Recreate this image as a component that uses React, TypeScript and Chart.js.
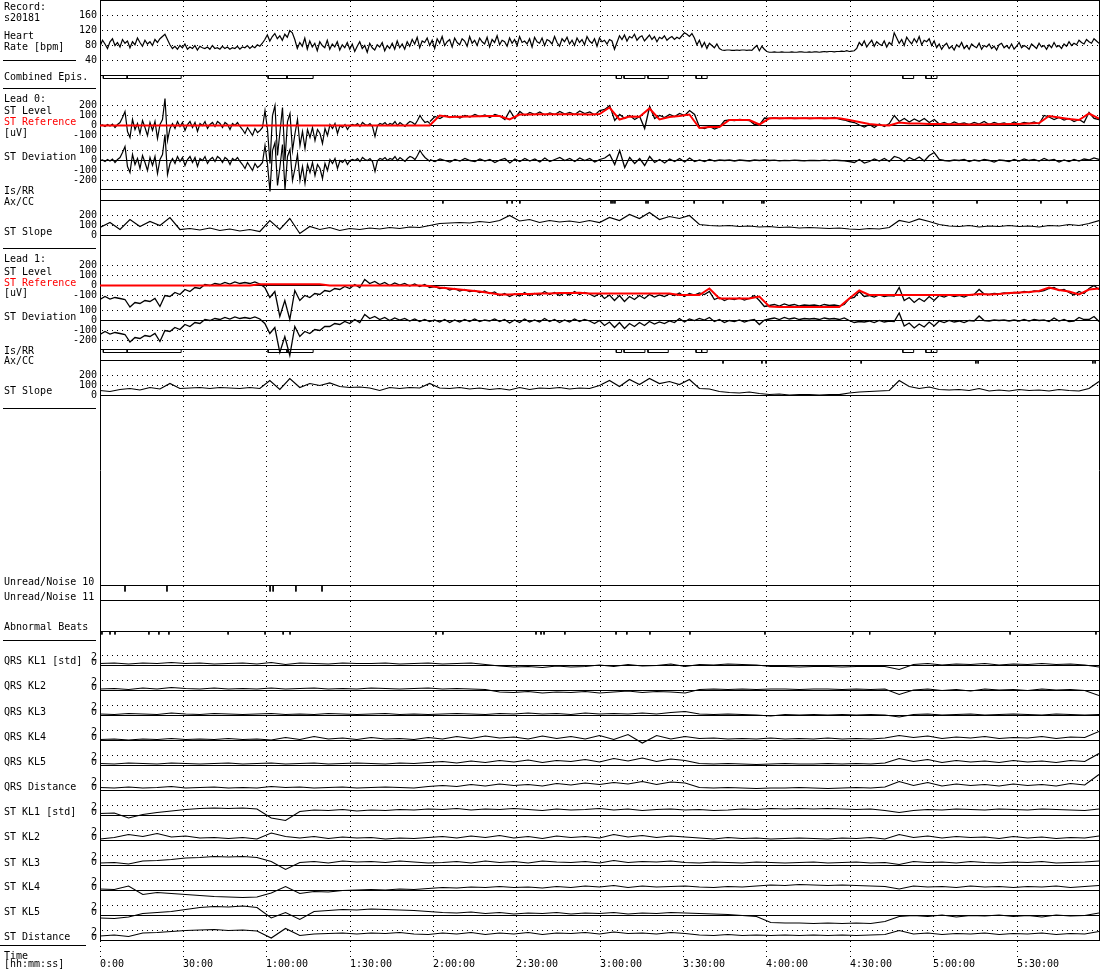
import React, { useEffect, useRef } from 'react';
import { Chart, registerables } from 'chart.js';

Chart.register(...registerables);

// ---------------- data ----------------
const RECORD_MINUTES = 359.5;
const LEAD0_SPLIT_MIN = 118.75; // lead 0 traces are sampled more densely before this time
const timeTickMinutes = [0, 30, 60, 90, 120, 150, 180, 210, 240, 270, 300, 330];
const timeTickLabels = ['0:00', '30:00', '1:00:00', '1:30:00', '2:00:00', '2:30:00', '3:00:00', '3:30:00', '4:00:00', '4:30:00', '5:00:00', '5:30:00'];
const hrTicks = [160, 120, 80, 40];
const stLevelTicks = [200, 100, 0, -100];
const stDevTicks = [100, 0, -100, -200];
const stSlopeTicks = [200, 100, 0];
const klTicks = [2, 0];

const heartRate = [
  78, 94, 84, 72, 90, 98, 80, 88, 76, 96, 86, 92, 74, 90, 82, 100, 88, 78, 94, 84, 90, 80, 96, 88, 98,
  104, 110, 96,
  82, 72, 78, 70, 80, 74, 84, 70, 76, 72, 80, 68, 78, 74, 72, 76, 70, 80, 72, 74,
  70, 78, 72, 76, 70, 74, 72, 78, 70, 76, 74, 80, 72, 78, 74, 82, 78, 86,
  96, 108, 92, 104, 112, 98, 106, 94, 110, 102, 120, 114,
  96, 72, 88, 78, 100, 70, 92, 76, 86, 66, 90, 80, 74, 94, 70, 84, 76, 90, 68, 82, 74, 88,
  70, 84, 64, 78, 90, 72, 80, 62, 86, 74, 68, 82, 76, 88, 66, 80, 72, 86, 70, 92, 74, 84, 70, 90,
  78, 96, 84, 102, 74, 92, 88, 100, 80, 94, 72, 98, 86, 104, 80, 90, 96, 76, 100, 88, 82, 98, 92, 78, 104, 86, 94, 80, 100, 90,
  84, 102, 76, 96, 88, 106, 82, 94, 90, 78, 100, 86, 96, 80, 104, 88, 92, 84, 98, 76, 102, 90, 86, 100, 80, 96, 92, 84, 104, 88,
  78, 98, 90, 102, 84, 94, 80, 100, 88, 96, 82, 104, 92, 86, 98, 78, 100, 90, 94, 84, 96,
  92, 70, 88, 106,
  96, 108, 92, 104, 100, 110, 94, 102, 106, 92, 100, 108, 96, 104, 90, 102, 98, 106, 94, 100, 104, 96, 102, 98,
  106, 114, 110, 104, 112,
  100, 82, 94, 76, 88, 72, 86, 80, 74, 84, 72,
  68, 67, 68, 68, 67, 67, 68, 67, 68, 68, 67, 68, 67,
  74, 80, 66, 78, 70, 64,
  62, 62, 63, 62, 62, 63, 62, 62, 62, 63, 62, 62, 63, 63, 62, 62, 63, 62, 63, 63,
  62, 63, 64, 63, 64, 64, 63, 64, 64, 65, 64, 66, 64, 65, 66,
  72, 88, 80, 92, 76, 86, 94, 78, 90, 84, 80, 92, 76, 88, 82,
  114,
  100, 86, 96, 80, 102, 92, 84, 98, 88, 104, 82, 94, 90, 98, 80, 92,
  74, 84, 70, 80, 86, 72, 78, 68, 82, 76, 88, 72, 80, 70, 84, 78, 74, 86, 70, 80, 76, 84, 72, 78, 68, 82, 86, 74, 80, 72,
  84, 70, 78, 88, 74, 80, 76, 70, 84, 78, 72, 86, 76, 80, 70, 82, 74, 88, 76, 80, 72, 84, 78, 90, 80, 86, 82, 94, 88, 84,
  96, 90, 86, 98, 92,
  86,
];

// lead 0, 0:00 - 1:58:45 (dense)
const lead0LevelEarly = [
  0, 5, -10, 10, -5, 15, -20, 10, 30,
  80, 140, -60, -120,
  60, -40, 20, -80, 50, -20, -100, 30, -50, 40, -130, 10,
  60, 270, -150, -30,
  20, -30, 40, -10, 30, -50, 10, 40, -20, 30, -60, 20, 0, 40, -30, 10, 30, -10, 40, 20, -20, 30, 10, -40, 20, 0, 30, -10,
  -40, -80, -20, -60, -100, -30, -70, -50, -20,
  150, -40, -380, 100, 200, -300, -60, 180, -350, 40, 120, -250, -80, 60, -200,
  -60, -230, -40, -120, -20, -150, -40, -80, -180, -30, -100, 10,
  -30, 20, -80, 0, -20, 10, -40, 0,
  10, 0, 20, -10, 30, 10, 0, 20, -10, -110, 0, 20, 10, 30, 0, 20, 10, 40, 0, 30, 10, -10, 20, 40, 30, 10, 50, 100, 60, 30, 40, 20,
];
// lead 0, 1:58:45 - end
const lead0LevelLate = [
  40, 90, 70, 100, 80, 95, 75, 100, 85, 110, 90, 105, 80, 110,
  95, 60, 150, 70, 140, 100, 130, 110, 135, 105, 125, 110, 140, 115, 130, 110, 145, 120, 135, 105,
  150, 160, 200, 50, 110, 70, 100, 60, 90, -30, 190, 70, 100, 80, 110, 90, 120, 100, 150, 110,
  -20, -30, -10, -35, -15, 50, 55, 50, 60, 55, 50, 10, 5, 75, 70, 75, 70, 72, 75, 70,
  72, 74, 70, 72, 75, 70, 72, 80, 65, 55, 40, 30, 5, -15, 10, -20, 15, -10, 20, 100,
  40, 70, 35, 65, 40, 70, 30, 60, 15, 30, 10, 35, 15, 25, 10, 30, 15, 40, 10, 30,
  15, 25, 10, 35, 15, 30, 20, 35, 15, 100, 85, 60, 80, 55, 70, 40, 60, 30, 130, 70,
  60,
];

const lead0Reference = [
  0, 0, 0, 0, 0, 0, 0, 0, 0, 0, 0, 0, 0, 0, 0, 0, 0, 0, 0, 0,
  0, 0, 0, 0, 0, 0, 0, 0, 0, 0, 0, 0, 0, 0,
  100, 85, 88, 90, 92, 95, 95, 60, 110, 110, 112, 112, 112, 112, 112, 110,
  115, 180, 60, 90, 88, 170, 60, 85, 95, 110, -25, -15, -15, 55, 55, 55, 10,
  72, 72, 72, 72, 72, 72, 72, 72, 55, 35, 15, 5, 0,
  30, 20, 20, 15, 15, 12, 12, 10, 10, 12, 12, 15, 15, 20, 25, 95, 80, 65, 55, 120, 70,
];

const lead0DeviationEarly = [
  0, 5, -10, 10, -5, 15, -20, 10, 30,
  80, 140, -60, -120,
  60, -40, 20, -80, 50, -20, -100, 30, -50, 40, -130, 10,
  60, 260, -140, -30,
  20, -30, 40, -10, 30, -50, 10, 40, -20, 30, -60, 20, 0, 40, -30, 10, 30, -10, 40, 20, -20, 30, 10, -40, 20, 0, 30, -10,
  -40, -80, -20, -60, -100, -30, -70, -50, -20,
  150, -40, -310, 100, 180, -250, -60, 160, -290, 40, 110, -200, -80, 60, -200,
  -60, -230, -40, -120, -20, -150, -40, -80, -180, -30, -100, 10,
  -30, 20, -80, 0, -20, 10, -40, 0,
  10, 0, 20, -10, 30, 10, 0, 20, -10, -110, 0, 20, 10, 30, 0, 20, 10, 40, 0, 30, 10, -10, 20, 40, 30, 10, 50, 100, 60, 30, 10, -10,
];
const lead0DeviationLate = [
  10, -10, 15, 0, -15, 10, -5, 20, 0, -10, 15, -5, 10, -20, 5, 20, -25, 15, -10, 20,
  -5, 15, -15, 25, -10, 10, 30, 0, 20, -10, 25, 0, 20, -15, 10,
  25, 60, -40, 100, -70, 30, -30, 20, -50, 40, -20, 10, -25, 15, -10, 20, -15, 25, -10, 5,
  -10, 10, -5, 5, 0, 5, -5, 5, 0, -5, 5, 0, 5, 0,
  3, -3, 2, -2, 4, 0, -3, 2, 0, -2, 3, -2, 4, 0, -3,
  -10, -20, 10, -25, -10, 15, -5, 20, -10, 40, 25, -10, 30, 5, 35, -5,
  50, 80, 10, 0, -5, 5, 0, 10, -10, 5, -5, 10, 0, -15, 5, 0, -10, 10, -5, 15,
  0, 10, -5, 20, 0, 10, -15, 5, -10, 10, -5, 15, 5, 25, 10,
];

const lead0Slope = [
  80, 130, 60, 160, 90, 140, 100, 180, 60, 70, 55, 75, 50, 65, 45, 60, 40, 150, 60, 170,
  20, 90, 60, 80, 50, 70, 60, 75, 65, 80, 70, 85, 80, 100, 120, 125, 130, 125, 140, 130,
  150, 200, 145, 160, 130, 150, 135, 145, 130, 150, 130, 180, 150, 210, 170, 230, 160, 190, 170, 200,
  110, 100, 95, 100, 90, 95, 85, 90, 80, 85, 75, 80, 75, 70, 75, 65, 60, 70, 65, 80,
  150, 130, 165, 140, 110, 95, 90, 100, 85, 95, 90, 100, 90, 95, 85, 100, 95, 110, 100, 120,
  150,
];

const lead1Level = [
  -140, -110, -135, -120, -130, -140, -215, -170, -180, -150, -160, -130, -210, -100, -110, -70, -90, -40, -60, -20,
  -30, 10, 0, 20, 10, 30, 15, 35, 20, 30, 20, 35, 15, -20, -120, -60, -310, -150, -340, -50,
  -150, -100, -120, -80, -90, -50, -60, -30, -40, -10, -30, 10, -20, 60, 20, 40, 10, 30, 0, 25,
  5, 20, -5, 15, -10, 10, -20, -10, -30, -20, -45, -30, -55, -40, -60, -50, -70, -55, -80, -65,
  -100, -80, -110, -85, -105, -70, -100, -80, -95, -60, -90, -70, -100, -75, -95, -60, -90, -70, -85, -110,
  -80, -130, -95, -150, -100, -160, -110, -140, -100, -130, -90, -115, -95, -110, -85, -100, -75, -110, -80, -95,
  -75, -90, -60, -140, -120, -150, -130, -140, -125, -145, -130, -100, -150, -210, -200, -190, -205, -185, -200, -190,
  -205, -195, -200, -195, -205, -190, -200, -195, -205, -190, -130, -120, -60, -110, -100, -115, -95, -110, -100, -105,
  -20, -150, -120, -170, -130, -160, -110, -150, -100, -115, -95, -110, -100, -115, -95, -90, -40, -85, -90, -80,
  -85, -75, -80, -70, -75, -60, -70, -55, -60, -50, -30, -20, -50, -40, -70, -95, -60, -80, -30, 0,
  -40,
];

const lead1Reference = [
  0, 0, 0, 0, 0, 0, 0, 0, 0, 0, 0, 0, 0, 0, 0, 0,
  12, 12, 12, 12, 12, 12, 12,
  0, 0, 0, 0, 0, 0, 0, 0, 0, 0,
  -5, -20, -30, -40, -50, -60, -75, -90, -90, -85, -85, -80, -80, -75, -75, -72, -80,
  -80, -80, -80, -80, -80, -80, -80, -80,
  -95, -95, -95, -30, -130, -130, -130, -130, -110,
  -210, -215, -215, -215, -215, -215, -215, -215,
  -130, -50, -95, -95, -95, -95, -95, -95, -95, -95, -95, -95, -95,
  -85, -90, -85, -75, -70, -65, -55, -20, -45, -60, -90, -40, -30,
];

const lead1Deviation = [
  -140, -110, -135, -120, -130, -140, -215, -170, -180, -150, -160, -130, -210, -100, -110, -70, -90, -40, -60, -20,
  -30, 10, 0, 20, 10, 30, 15, 35, 20, 30, 20, 35, 15,
  -30, -130, -70, -320, -160, -350, -60, -160, -110, -130, -90, -100, -60, -60, -30,
  -40, -10, -30, 10, -20, 60, 20, 40, 10, 30, 0, 25, 5, 20, -5, 15, -10, 10,
  -10, 5, -15, 10, -20, 5, -15, 10, -10, 15, -10, 5, -5, 15, -10, 10, -25, 5, -20, 15,
  -15, 5, -15, 20, -10, 10, -20, 5, -15, 15, -10, 10, -5,
  -30, 0, -50, -15, -70, -20, -80, -30, -60, -20, -50, -10, -35, -15, -30, -5, -20, 20, -15, 15,
  0, 20, 5, 30, -10, 10, -20, 0, -10, 5, -15, 0, 10, -40,
  5, 15, 25, 10, 30, 15, 25, 10, 20, 15, 20, 10, 25, 15, 20, 10, 25,
  0, -20, -10, -15, -5, -20, 0, -15, -5, -10, 75, -55, -25, -75, -35, -65, -15, -55, -5, -20,
  0, -15, -5, -20, 0, -5,
  45, 0, -5, 5, 0, 5, -5, 5, -5, 10, -5, 10, 0, 5, -10, 25, -5, 10, -10, -5,
  30, 10, 10, 40, -10,
];

const lead1Slope = [
  50, 40, 60, 70, 55, 80, 65, 120, 70, 75, 80, 70, 80, 75, 70, 80, 70, 150, 60, 170,
  80, 120, 100, 125, 90, 80, 85, 75, 50, 80, 70, 80, 75, 120, 75, 70, 80, 65, 75, 60,
  70, 55, 80, 60, 75, 70, 80, 65, 75, 70, 100, 150, 90, 160, 110, 170, 120, 140, 110, 160,
  70, 65, 40, 30, 25, 35, 20, 10, 15, 5, 10, 8, 5, 10, 8, 25, 35, 40, 45, 50,
  150, 90, 70, 85, 60, 55, 60, 50, 70, 45, 55, 45, 60, 50, 55, 45, 60, 50, 45, 70,
  140,
];

const qrsKL1 = [0.4, 0.5, 0.3, 0.5, 0.4, 0.6, 0.4, 0.5, 0.3, 0.4, 0.5, 0.3, 0.6, 0.2, 0.5, 0.4, 0.3, 0.5, 0.4, 0.4, 0.5, 0.3, 0.4, 0.5, 0.3, 0.4, 0.5, 0.2, -0.1, -0.3, -0.2, -0.4, -0.1, -0.3, -0.2, 0.1, -0.2, 0.2, -0.1, 0.0, 0.3, -0.2, 0.2, 0.1, 0.3, 0.2, 0.1, -0.2, -0.2, -0.3, -0.2, -0.2, -0.3, -0.2, -0.2, -0.2, -0.8, 0.2, 0.4, 0.1, 0.3, 0.2, 0.4, 0.1, 0.3, 0.2, 0.4, 0.2, 0.3, 0.1, -0.3];
const qrsKL2 = [0.3, 0.4, 0.2, 0.5, 0.3, 0.6, 0.4, 0.3, 0.5, 0.3, 0.4, 0.3, 0.5, 0.3, 0.4, 0.5, 0.3, 0.4, 0.3, 0.5, 0.4, 0.3, 0.4, 0.5, 0.3, 0.4, 0.3, 0.2, -0.3, -0.4, -0.2, -0.5, -0.3, -0.4, -0.2, -0.5, -0.3, -0.1, -0.4, -0.2, -0.3, -0.5, 0.2, 0.3, 0.2, 0.3, 0.2, 0.3, 0.3, 0.2, 0.3, 0.3, 0.2, 0.3, 0.2, 0.3, -0.8, 0.1, 0.3, 0.0, 0.2, -0.1, 0.3, 0.1, 0.2, 0.0, 0.3, 0.1, 0.2, 0.0, -1.0];
const qrsKL3 = [0.3, 0.2, 0.4, 0.3, 0.2, 0.5, 0.3, 0.2, 0.4, 0.3, 0.2, 0.3, 0.4, 0.2, 0.3, 0.2, 0.4, 0.3, 0.2, 0.3, 0.4, 0.2, 0.3, 0.2, 0.3, 0.4, 0.3, 0.2, 0.4, 0.3, 0.5, 0.3, 0.4, 0.2, 0.5, 0.3, 0.4, 0.3, 0.5, 0.3, 0.6, 0.8, 0.3, 0.2, 0.3, 0.2, 0.1, -0.1, 0.2, 0.1, 0.2, 0.1, 0.2, 0.1, 0.2, 0.1, -0.3, 0.2, 0.3, 0.1, 0.2, 0.3, 0.1, 0.2, 0.3, 0.2, 0.1, 0.3, 0.2, 0.1, 0.2];
const qrsKL4 = [0.2, 0.3, 0.1, 0.3, 0.2, 0.4, 0.2, 0.3, 0.2, 0.4, 0.2, 0.3, 0.1, 0.6, 0.2, 0.8, 0.3, 0.5, 0.2, 0.6, 0.3, 0.4, 0.2, 0.6, 0.3, 0.8, 0.4, 0.9, 0.5, 0.7, 0.3, 0.9, 0.4, 0.8, 0.3, 1.0, 0.2, 1.2, -0.5, 1.0, 0.3, 0.8, 0.4, 0.5, 0.3, 0.4, 0.3, 0.5, 0.3, 0.4, 0.3, 0.5, 0.3, 0.4, 0.3, 0.5, 1.0, 0.6, 0.9, 0.4, 0.7, 0.5, 0.8, 0.4, 0.6, 0.5, 0.8, 0.4, 0.7, 0.6, 1.8];
const qrsKL5 = [0.4, 0.3, 0.5, 0.4, 0.3, 0.5, 0.4, 0.3, 0.4, 0.5, 0.3, 0.4, 0.5, 0.3, 0.4, 0.5, 0.3, 0.4, 0.5, 0.4, 0.3, 0.5, 0.4, 0.6, 0.8, 0.5, 0.9, 0.6, 1.0, 0.7, 1.1, 0.6, 1.0, 0.8, 1.2, 0.7, 1.4, 0.9, 1.5, 0.8, 1.3, 1.0, 0.4, 0.3, 0.4, 0.3, 0.2, 0.3, 0.4, 0.3, 0.3, 0.4, 0.3, 0.4, 0.3, 0.5, 1.4, 0.8, 1.2, 0.6, 1.0, 0.7, 0.9, 0.6, 1.0, 0.7, 0.9, 0.6, 1.0, 0.8, 2.4];
const qrsDistance = [0.6, 0.5, 0.7, 0.5, 0.6, 0.8, 0.5, 0.6, 0.7, 0.5, 0.6, 0.5, 0.8, 0.6, 0.7, 0.5, 0.6, 0.7, 0.5, 0.6, 0.7, 0.6, 0.5, 0.8, 1.0, 0.8, 1.2, 0.9, 1.3, 1.0, 1.2, 0.9, 1.4, 1.1, 1.5, 1.2, 1.6, 1.3, 1.8, 1.2, 1.7, 1.5, 0.6, 0.5, 0.6, 0.5, 0.4, 0.5, 0.5, 0.6, 0.5, 0.4, 0.5, 0.6, 0.5, 0.7, 1.8, 1.0, 1.6, 0.9, 1.3, 1.0, 1.2, 0.9, 1.3, 1.0, 1.2, 0.9, 1.4, 1.1, 3.2];
const stKL1 = [0.4, 0.5, -0.5, 0.2, 0.6, 0.9, 1.2, 1.4, 1.5, 1.4, 1.5, 1.3, -0.5, -1.0, 0.8, 1.1, 1.0, 1.2, 0.9, 1.1, 1.0, 1.2, 1.1, 1.3, 1.2, 1.4, 1.1, 1.3, 1.2, 1.4, 1.2, 1.0, 1.3, 1.1, 1.2, 1.4, 1.1, 1.3, 1.0, 1.2, 1.3, 1.1, 1.2, 1.0, 1.1, 1.3, 1.2, 1.4, 1.3, 1.4, 1.3, 1.4, 1.3, 1.2, 1.3, 1.0, 0.6, 1.0, 1.2, 1.1, 1.3, 1.2, 1.1, 1.3, 1.2, 1.1, 1.3, 1.2, 1.1, 1.0, 1.3];
const stKL2 = [0.3, 0.6, 1.2, 0.8, 1.4, 0.7, 0.9, 0.5, 0.6, 0.4, 0.6, 0.3, 1.5, 0.8, 0.5, 0.8, 0.4, 0.7, 0.5, 0.6, 0.3, 0.5, 0.4, 0.6, 0.8, 0.5, 0.9, 0.6, 1.0, 0.5, 0.8, 0.4, 0.9, 0.6, 0.8, 0.5, 1.2, 0.7, 1.0, 0.6, 0.9, 0.7, 0.5, 0.3, 0.6, 0.4, 0.5, 0.3, 0.4, 0.5, 0.4, 0.3, 0.5, 0.4, 0.6, 0.3, 1.2, 0.6, 0.9, 0.5, 0.8, 0.6, 0.7, 0.4, 0.8, 0.5, 0.7, 0.4, 0.6, 0.5, 0.9];
const stKL3 = [0.5, 0.6, 0.3, 0.9, 1.0, 1.2, 1.5, 1.6, 1.8, 1.7, 1.8, 1.6, 0.8, -0.8, 0.6, 0.8, 0.5, 0.9, 0.7, 0.8, 0.6, 0.9, 0.7, 0.5, 0.6, 0.8, 0.5, 0.9, 0.6, 0.8, 0.5, 0.9, 0.7, 0.6, 0.8, 0.5, 1.0, 0.6, 0.8, 0.7, 0.9, 0.6, 0.5, 0.7, 0.6, 0.5, 0.7, 0.6, 0.5, 0.6, 0.7, 0.5, 0.6, 0.7, 0.5, 0.6, 0.2, 0.8, 0.6, 0.7, 0.5, 0.8, 0.6, 0.5, 0.7, 0.6, 0.8, 0.5, 0.6, 0.7, 0.9];
const stKL4 = [0.3, 0.2, 0.9, -0.8, -0.4, -0.6, -0.8, -1.0, -1.2, -1.3, -1.4, -1.3, -0.5, 0.8, -0.6, -0.2, -0.3, 0.0, 0.1, 0.2, 0.1, 0.3, 0.2, 0.4, 0.6, 0.5, 0.7, 0.6, 0.8, 0.6, 0.7, 0.5, 0.8, 0.6, 0.9, 0.7, 1.0, 0.6, 0.9, 0.7, 0.8, 0.9, 0.7, 0.6, 0.8, 0.7, 0.9, 1.1, 1.0, 1.2, 1.1, 1.0, 1.1, 1.0, 0.9, 0.8, 0.3, 0.9, 0.7, 0.8, 0.6, 0.9, 0.7, 0.8, 0.6, 0.8, 0.7, 0.9, 0.6, 0.8, 1.0];
const stKL5 = [-0.5, -0.6, -0.3, 0.4, 0.6, 0.8, 1.2, 1.6, 1.8, 1.7, 1.9, 1.6, -0.5, 0.6, -0.8, 0.8, 1.0, 1.2, 1.1, 1.3, 1.2, 1.1, 1.0, 0.8, 0.6, 0.5, 0.7, 0.4, 0.6, 0.3, 0.5, 0.4, 0.6, 0.3, 0.5, 0.4, 0.6, 0.3, 0.5, 0.4, 0.6, 0.5, 0.4, 0.3, 0.2, 0.0, -0.2, -1.4, -1.5, -1.5, -1.6, -1.5, -1.6, -1.5, -1.6, -1.2, -0.2, 0.0, -0.2, 0.1, -0.3, 0.0, -0.1, 0.1, -0.2, 0.0, -0.3, 0.1, -0.1, 0.0, 0.5];
const stDistance = [0.9, 1.1, 0.8, 1.5, 1.6, 1.8, 2.0, 2.1, 2.2, 2.0, 2.1, 1.9, 0.5, 2.4, 1.0, 1.3, 1.4, 1.5, 1.3, 1.5, 1.4, 1.6, 1.3, 1.2, 1.5, 1.3, 1.6, 1.2, 1.5, 1.3, 1.6, 1.2, 1.5, 1.4, 1.6, 1.3, 1.7, 1.4, 1.5, 1.3, 1.6, 1.4, 1.1, 1.0, 1.2, 1.0, 1.1, 1.0, 1.1, 1.0, 1.1, 1.0, 1.1, 1.0, 1.1, 1.2, 2.0, 1.3, 1.5, 1.2, 1.4, 1.3, 1.5, 1.2, 1.4, 1.3, 1.5, 1.2, 1.4, 1.3, 1.8];

// episodes (minutes)
const episodeStartMin = [1.2, 9.8, 60.5, 67.3, 185.8, 188.6, 197.2, 214.5, 216.5, 288.9, 297.2, 299.2];
const episodeEndMin = [9.8, 29.2, 67.3, 76.7, 187.7, 196.1, 204.5, 216.5, 218.5, 292.8, 299.2, 301.2];
// event markers (minutes)
const lead0AxisShiftMin = [123.4, 146.5, 148.3, 151.1, 183.9, 184.6, 185.3, 196.5, 197.2, 213.8, 224.2, 238.2, 238.9, 273.9, 285.7, 299.8, 315.6, 338.6, 348.0];
const lead1AxisShiftMin = [224.2, 238.2, 239.7, 273.9, 315.2, 316.0, 357.3, 358.1];
const noise10Min = [9.0, 24.1, 61.2, 62.3, 70.5, 79.9];
const abnormalBeatMin = [0.7, 3.6, 5.4, 17.6, 21.2, 24.8, 46.1, 59.4, 65.9, 68.4, 120.9, 123.4, 156.9, 158.7, 159.8, 167.3, 185.7, 189.6, 197.9, 212.3, 239.3, 270.9, 277.0, 300.5, 327.5, 358.4];

// ---------------- layout ----------------
const AREA = { top: 0, bottom: 941, left: 100, right: 1099, canvasW: 1100, canvasH: 970 };
const FONT = '10px "DejaVu Sans Mono", "Liberation Mono", monospace';
const RED = '#ff0000';

// axis id -> [anchor value, anchor pixel, px per unit]
const AXIS_ANCHORS: Record<string, [number, number, number]> = {
  yHR: [40, 60.5, 15 / 40],
  yEpi: [0, 75.5, 1],
  yL0: [0, 125.5, 0.1],
  yD0: [0, 160.5, 0.1],
  yIs0: [0, 189.5, 1],
  yAx0: [0, 200.5, 1],
  yS0: [0, 235.5, 0.1],
  yL1: [0, 285.5, 0.1],
  yD1: [0, 320.5, 0.1],
  yIs1: [0, 349.5, 1],
  yAx1: [0, 360.5, 1],
  yS1: [0, 395.5, 0.1],
  yN10: [0, 585.5, 1],
  yN11: [0, 600.5, 1],
  yAB: [0, 631.5, 1],
};
const KL_AXES = ['yQ0', 'yQ1', 'yQ2', 'yQ3', 'yQ4', 'yQ5', 'yT0', 'yT1', 'yT2', 'yT3', 'yT4', 'yT5'];
KL_AXES.forEach((id, i) => {
  AXIS_ANCHORS[id] = [0, 665.5 + 25 * i, 5];
});

const PANELS = [
  { axis: 'yHR', ticks: hrTicks, solid: [] as number[], kl: false },
  { axis: 'yL0', ticks: stLevelTicks, solid: [0], kl: false },
  { axis: 'yD0', ticks: stDevTicks, solid: [0], kl: false },
  { axis: 'yS0', ticks: stSlopeTicks, solid: [0], kl: false },
  { axis: 'yL1', ticks: stLevelTicks, solid: [0], kl: false },
  { axis: 'yD1', ticks: stDevTicks, solid: [0], kl: false },
  { axis: 'yS1', ticks: stSlopeTicks, solid: [0], kl: false },
  ...KL_AXES.map((id) => ({ axis: id, ticks: klTicks, solid: [0], kl: true })),
];
const BORDER_AXES = ['yEpi', 'yIs0', 'yAx0', 'yIs1', 'yAx1', 'yN10', 'yN11', 'yAB'];

const LEFT_LABELS: [string, number, string?][] = [
  ['Record:', 10], ['s20181', 20.5], ['Heart', 39], ['Rate [bpm]', 50],
  ['Combined Epis.', 80],
  ['Lead 0:', 101.5], ['ST Level', 114], ['ST Reference', 125, RED], ['[uV]', 135.5],
  ['ST Deviation', 159.5], ['Is/RR', 194], ['Ax/CC', 205], ['ST Slope', 234.5],
  ['Lead 1:', 261.5], ['ST Level', 274.5], ['ST Reference', 285.5, RED], ['[uV]', 296],
  ['ST Deviation', 319.5], ['Is/RR', 353.5], ['Ax/CC', 364], ['ST Slope', 394],
  ['Unread/Noise 10', 585], ['Unread/Noise 11', 599.5], ['Abnormal Beats', 629.5],
  ['QRS KL1 [std]', 663.5], ['QRS KL2', 689], ['QRS KL3', 714.5], ['QRS KL4', 739.5],
  ['QRS KL5', 764.5], ['QRS Distance', 789.5],
  ['ST KL1 [std]', 815], ['ST KL2', 840], ['ST KL3', 866], ['ST KL4', 890],
  ['ST KL5', 915], ['ST Distance', 939.5],
  ['Time', 958.5], ['[hh:mm:ss]', 967],
];
const LABEL_SEPARATORS: [number, number, number][] = [
  [60.5, 3, 76], [88.5, 3, 96], [248.5, 3, 96], [408.5, 3, 96], [640.5, 3, 96], [945.5, 0, 86],
];

// ---------------- helpers ----------------
function makeAxis(v0: number, p0: number, k: number) {
  const max = v0 + (p0 - AREA.top) / k;
  const min = max - (AREA.bottom - AREA.top) / k;
  return { type: 'linear', display: false, min, max, bounds: 'data' };
}
const series = (vals: number[], t0 = 0, t1 = RECORD_MINUTES) =>
  vals.map((v, i) => ({ x: t0 + (i * (t1 - t0)) / (vals.length - 1), y: v }));
const boxes = (starts: number[], ends: number[], depth: number) =>
  starts.flatMap((s, i) => [
    { x: s, y: 0 }, { x: s, y: -depth }, { x: ends[i], y: -depth }, { x: ends[i], y: 0 }, { x: ends[i], y: null },
  ]);
const marks = (times: number[], len: number) => times.flatMap((t) => [{ x: t, y: 0 }, { x: t, y: -len }, { x: t, y: null }]);
const snap = (p: number) => Math.round(p - 0.5) + 0.5;

const framePlugin = {
  id: 'ecgFrame',
  beforeDatasetsDraw(chart: any) {
    const ctx = chart.ctx as CanvasRenderingContext2D;
    const s = chart.scales;
    const L = chart.chartArea.left;
    const R = chart.chartArea.right;
    const hline = (y: number, x1: number, x2: number) => {
      ctx.beginPath(); ctx.moveTo(x1, y); ctx.lineTo(x2, y); ctx.stroke();
    };
    const vline = (x: number, y1: number, y2: number) => {
      ctx.beginPath(); ctx.moveTo(x, y1); ctx.lineTo(x, y2); ctx.stroke();
    };
    ctx.save();
    ctx.lineWidth = 1;
    ctx.strokeStyle = '#000';
    ctx.setLineDash([1, 4]);
    for (const p of PANELS) {
      for (const v of p.ticks) {
        if (p.solid.includes(v)) continue;
        hline(snap(s[p.axis].getPixelForValue(v)), L + 2, R);
      }
    }
    for (const t of timeTickMinutes) {
      const x = snap(s.x.getPixelForValue(t));
      vline(x, 1, 957);
    }
    ctx.setLineDash([]);
    for (const p of PANELS) {
      for (const v of p.solid) hline(snap(s[p.axis].getPixelForValue(v)), L, R + 1);
    }
    for (const id of BORDER_AXES) hline(snap(s[id].getPixelForValue(0)), L, R + 1);
    hline(0.5, L, R + 1);
    vline(L + 0.5, 0, AREA.bottom);
    vline(R + 0.5, 0, AREA.bottom);
    ctx.restore();
  },
  afterDraw(chart: any) {
    const ctx = chart.ctx as CanvasRenderingContext2D;
    const s = chart.scales;
    ctx.save();
    ctx.font = FONT;
    ctx.textAlign = 'left';
    ctx.textBaseline = 'alphabetic';
    for (const [txt, y, col] of LEFT_LABELS) {
      ctx.fillStyle = col || '#000';
      ctx.fillText(txt, 4, y);
    }
    ctx.fillStyle = '#000';
    timeTickMinutes.forEach((t, i) => {
      const x = snap(s.x.getPixelForValue(t)) - 0.5;
      ctx.fillText(timeTickLabels[i], x, 967);
    });
    ctx.textAlign = 'right';
    for (const p of PANELS) {
      for (const v of p.ticks) {
        const y = s[p.axis].getPixelForValue(v);
        if (p.kl) {
          ctx.textBaseline = 'alphabetic';
          if (v === 0) {
            ctx.save();
            ctx.beginPath();
            ctx.rect(80, y - 6, 20, 6);
            ctx.clip();
            ctx.fillText('0', 97, y - 0.5);
            ctx.restore();
          } else {
            ctx.fillText(String(v), 97, y + 4);
          }
        } else {
          ctx.textBaseline = 'middle';
          ctx.fillText(String(v), 97, y);
        }
      }
    }
    ctx.strokeStyle = '#000';
    ctx.lineWidth = 1;
    for (const [y, x1, x2] of LABEL_SEPARATORS) {
      ctx.beginPath(); ctx.moveTo(x1, y); ctx.lineTo(x2, y); ctx.stroke();
    }
    ctx.restore();
  },
};

function buildConfig() {
  const scales: any = {
    x: { type: 'linear', display: false, min: 0, max: RECORD_MINUTES, bounds: 'data' },
  };
  for (const id of Object.keys(AXIS_ANCHORS)) {
    const [v0, p0, k] = AXIS_ANCHORS[id];
    scales[id] = makeAxis(v0, p0, k);
  }
  const line = (data: any[], yAxisID: string, color = '#000', width = 1, order = 1) => ({
    data, yAxisID, xAxisID: 'x', borderColor: color, borderWidth: width, pointRadius: 0,
    tension: 0, fill: false, spanGaps: false, order,
  });
  const klSeries = [qrsKL1, qrsKL2, qrsKL3, qrsKL4, qrsKL5, qrsDistance, stKL1, stKL2, stKL3, stKL4, stKL5, stDistance];
  const datasets = [
    line(series(lead0Reference), 'yL0', RED, 2, 0),
    line(series(lead1Reference), 'yL1', RED, 2, 0),
    line(series(heartRate), 'yHR', '#000', 1.2),
    line(series(lead0LevelEarly, 0, LEAD0_SPLIT_MIN), 'yL0', '#000', 1.2),
    line(series(lead0LevelLate, LEAD0_SPLIT_MIN, RECORD_MINUTES), 'yL0', '#000', 1.3),
    line(series(lead0DeviationEarly, 0, LEAD0_SPLIT_MIN), 'yD0', '#000', 1.2),
    line(series(lead0DeviationLate, LEAD0_SPLIT_MIN, RECORD_MINUTES), 'yD0', '#000', 1.3),
    line(series(lead0Slope), 'yS0', '#000', 1.2),
    line(series(lead1Level), 'yL1', '#000', 1.3),
    line(series(lead1Deviation), 'yD1', '#000', 1.3),
    line(series(lead1Slope), 'yS1', '#000', 1.2),
    ...klSeries.map((vals, i) => line(series(vals), KL_AXES[i], '#000', 1.1)),
    line(boxes(episodeStartMin, episodeEndMin, 3), 'yEpi'),
    line(boxes(episodeStartMin, episodeEndMin, 3), 'yIs1'),
    line(marks(lead0AxisShiftMin, 3), 'yAx0'),
    line(marks(lead1AxisShiftMin, 3), 'yAx1'),
    line(marks(noise10Min, 6), 'yN10'),
    line(marks(abnormalBeatMin, 3), 'yAB'),
  ];
  return {
    type: 'line',
    data: { datasets },
    options: {
      responsive: false,
      maintainAspectRatio: false,
      animation: false,
      devicePixelRatio: 1,
      events: [],
      layout: {
        padding: {
          left: AREA.left,
          right: AREA.canvasW - AREA.right,
          top: AREA.top,
          bottom: AREA.canvasH - AREA.bottom,
        },
      },
      plugins: { legend: { display: false }, tooltip: { enabled: false }, title: { display: false } },
      scales,
    },
    plugins: [framePlugin],
  };
}

export default function App() {
  const ref = useRef<HTMLCanvasElement>(null);
  useEffect(() => {
    document.body.style.margin = '0';
    const chart = new Chart(ref.current as HTMLCanvasElement, buildConfig() as any);
    return () => chart.destroy();
  }, []);
  return (
    <div style={{ width: AREA.canvasW, height: AREA.canvasH, background: '#fff' }}>
      <canvas ref={ref} width={AREA.canvasW} height={AREA.canvasH} style={{ display: 'block' }} />
    </div>
  );
}
